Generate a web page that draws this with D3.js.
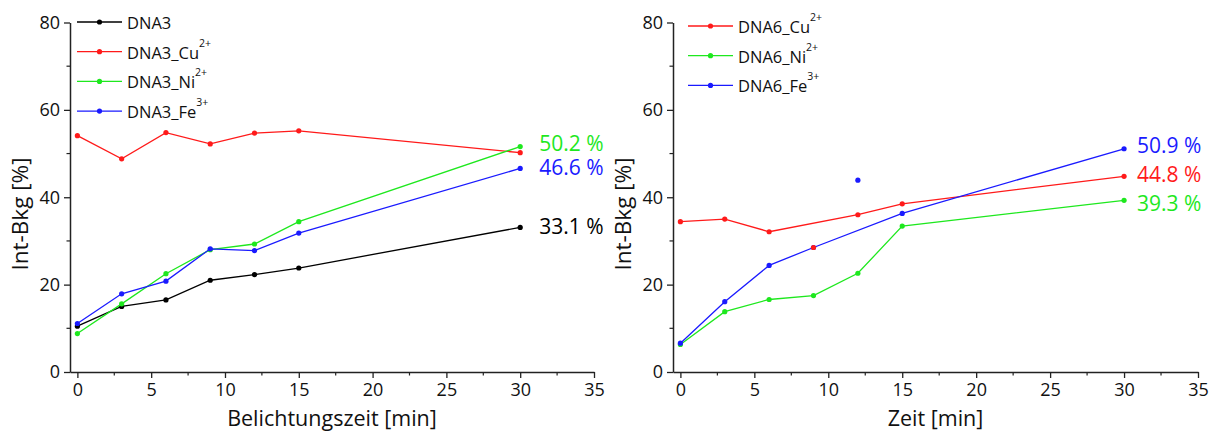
<!DOCTYPE html>
<html>
<head>
<meta charset="utf-8">
<script src="https://cdn.jsdelivr.net/npm/d3@7"></script>
<style>
  body { margin: 0; background: #fff; }
  svg { display: block; font-family: "Open Sans", sans-serif; }
</style>
</head>
<body>
<svg id="chart" width="1218" height="433"></svg>
<script>
// time points [min]
var times = [0, 3, 6, 9, 12, 15, 30];

// left panel: DNA3
var dna3    = [10.5, 15.0, 16.5, 21.0, 22.3, 23.8, 33.1];
var dna3Cu  = [54.1, 48.8, 54.8, 52.2, 54.7, 55.2, 50.2];
var dna3Ni  = [8.8, 15.6, 22.5, 28.0, 29.3, 34.4, 51.6];
var dna3Fe  = [11.1, 17.9, 20.8, 28.2, 27.8, 31.8, 46.6];

// right panel: DNA6 (null = point left out of the line)
var dna6Cu  = [34.4, 35.0, 32.1, null, 36.0, 38.5, 44.8];
var dna6Ni  = [6.3, 13.8, 16.6, 17.5, 22.6, 33.4, 39.3];
var dna6Fe  = [6.6, 16.1, 24.4, 28.5, null, 36.3, 51.1];
// stray single points in the DNA6 plot
var strayX  = [12, 9];
var strayY  = [43.9, 28.5];
var strayC  = ["blue", "red"];

var xTicks = [0, 5, 10, 15, 20, 25, 30, 35];
var yTicks = [0, 20, 40, 60, 80];

var colors = { black: "#000000", red: "#ff1a1a", green: "#1ee81e", blue: "#1a1aff" };

var panels = [
  {
    left: 70, right: 594, xTitle: "Belichtungszeit [min]",
    legX: 7, legY: 22, labDx: 19,
    series: [
      { name: "DNA3", sup: "", vals: dna3, c: "black", label: "33.1 %", dy: -1.5 },
      { name: "DNA3_Cu", sup: "2+", vals: dna3Cu, c: "red", label: null },
      { name: "DNA3_Ni", sup: "2+", vals: dna3Ni, c: "green", label: "50.2 %", dy: -3.5 },
      { name: "DNA3_Fe", sup: "3+", vals: dna3Fe, c: "blue", label: "46.6 %", dy: -1 }
    ],
    stray: []
  },
  {
    left: 673, right: 1198, xTitle: "Zeit [min]",
    legX: 15, legY: 26, labDx: 13,
    series: [
      { name: "DNA6_Cu", sup: "2+", vals: dna6Cu, c: "red", label: "44.8 %", dy: -2 },
      { name: "DNA6_Ni", sup: "2+", vals: dna6Ni, c: "green", label: "39.3 %", dy: 3 },
      { name: "DNA6_Fe", sup: "3+", vals: dna6Fe, c: "blue", label: "50.9 %", dy: -4 }
    ],
    stray: [0, 1]
  }
];

var svg = d3.select("#chart");
var plotTop = 22.5, plotBottom = 372;

var y = d3.scaleLinear().domain([0, 80]).range([plotBottom, plotTop]);

panels.forEach(function(p) {
  var x = d3.scaleLinear().domain([-0.5, 35]).range([p.left, p.right]);
  var g = svg.append("g");

  // minor ticks
  var xMinor = d3.range(2.5, 35, 5);
  var yMinor = d3.range(10, 80, 20);
  g.selectAll(".xm").data(xMinor).enter().append("line")
    .attr("x1", function(d){ return x(d); }).attr("x2", function(d){ return x(d); })
    .attr("y1", plotBottom).attr("y2", plotBottom + 3.5)
    .attr("stroke", "#222").attr("stroke-width", 1.2);
  g.selectAll(".ym").data(yMinor).enter().append("line")
    .attr("y1", function(d){ return y(d); }).attr("y2", function(d){ return y(d); })
    .attr("x1", p.left).attr("x2", p.left - 3.5)
    .attr("stroke", "#222").attr("stroke-width", 1.2);

  var xAxis = d3.axisBottom(x).tickValues(xTicks).tickSize(6).tickPadding(5).tickSizeOuter(0);
  var yAxis = d3.axisLeft(y).tickValues(yTicks).tickSize(6).tickPadding(4).tickSizeOuter(0);

  var gx = g.append("g").attr("transform", "translate(0," + plotBottom + ")").call(xAxis);
  var gy = g.append("g").attr("transform", "translate(" + p.left + ",0)").call(yAxis);
  [gx, gy].forEach(function(a) {
    a.select(".domain").attr("stroke", "#222").attr("stroke-width", 1.5);
    a.selectAll(".tick line").attr("stroke", "#222").attr("stroke-width", 1.3);
    a.selectAll(".tick text").attr("font-size", 18).attr("fill", "#111")
      .attr("font-family", "Open Sans");
  });

  // axis titles
  g.append("text")
    .attr("x", (p.left + p.right) / 2).attr("y", 426)
    .attr("text-anchor", "middle").attr("font-size", 21.5).attr("fill", "#111")
    .text(p.xTitle);
  g.append("text")
    .attr("transform", "translate(" + (p.left - 42) + ",214) rotate(-90)")
    .attr("text-anchor", "middle").attr("font-size", 22.5).attr("fill", "#111")
    .text("Int-Bkg [%]");

  var line = d3.line().x(function(d){ return x(d[0]); }).y(function(d){ return y(d[1]); });

  p.series.forEach(function(s) {
    var pts = times.map(function(t, i){ return [t, s.vals[i]]; })
      .filter(function(d){ return d[1] != null; });
    g.append("path").attr("d", line(pts)).attr("fill", "none")
      .attr("stroke", colors[s.c]).attr("stroke-width", 1.3);
    g.selectAll(null).data(pts).enter().append("circle")
      .attr("cx", function(d){ return x(d[0]); }).attr("cy", function(d){ return y(d[1]); })
      .attr("r", 2.6).attr("fill", colors[s.c]);
    if (s.label) {
      var last = pts[pts.length - 1];
      g.append("text")
        .attr("x", x(last[0]) + p.labDx).attr("y", y(last[1]) + s.dy)
        .attr("dominant-baseline", "central")
        .attr("font-size", 21).attr("fill", colors[s.c])
        .text(s.label);
    }
  });

  p.stray.forEach(function(i) {
    g.append("circle").attr("cx", x(strayX[i])).attr("cy", y(strayY[i]))
      .attr("r", 2.6).attr("fill", colors[strayC[i]]);
  });

  // legend
  p.series.forEach(function(s, i) {
    var ly = p.legY + i * 29.7;
    var lx = p.left + p.legX;
    g.append("line").attr("x1", lx).attr("x2", lx + 45).attr("y1", ly).attr("y2", ly)
      .attr("stroke", colors[s.c]).attr("stroke-width", 1.3);
    g.append("circle").attr("cx", lx + 22.5).attr("cy", ly).attr("r", 2.6).attr("fill", colors[s.c]);
    var t = g.append("text").attr("x", lx + 50).attr("y", ly)
      .attr("dominant-baseline", "central").attr("font-size", 16.5).attr("fill", "#111");
    t.append("tspan").text(s.name);
    if (s.sup) {
      t.append("tspan").attr("font-size", 10.5).attr("dy", -9).text(s.sup);
    }
  });
});
</script>
</body>
</html>
